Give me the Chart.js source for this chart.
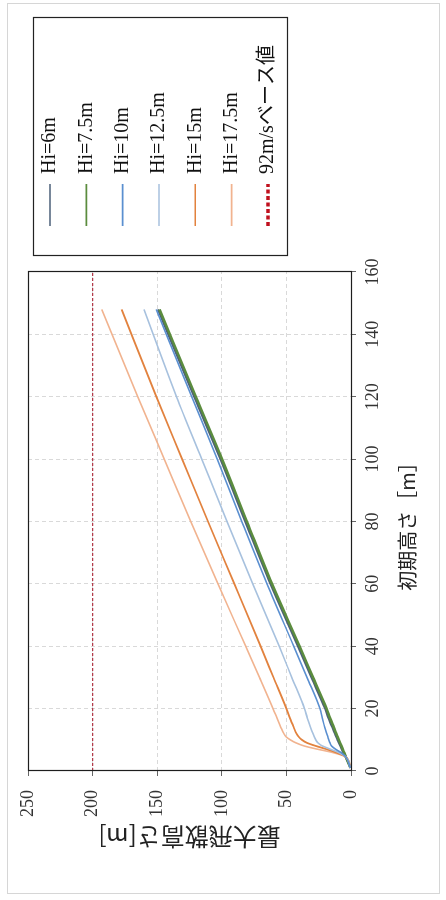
<!DOCTYPE html>
<html><head><meta charset="utf-8">
<script src="https://cdn.jsdelivr.net/npm/chart.js@4"></script>
<style>
html,body{margin:0;padding:0;background:#fff;overflow:hidden;width:446px;height:900px;}
#rot{position:absolute;left:0;top:0;width:900px;height:446px;transform-origin:0 0;transform:translate(0,900px) rotate(-90deg);}
canvas{display:block;}
</style></head><body>
<div id="rot"><canvas id="c" width="900" height="446"></canvas></div>
<script>
// Initial height [m] (x values)
const initialHeight = [1, 4.5, 6, 7, 8, 9, 10, 11, 12, 14, 17, 20, 30, 40, 60, 80, 100, 120, 148];
// Max scatter height [m] per series
const hi6    = [0.5, 4, 6.0, 7.1, 8.2, 9.3, 10.4, 11.4, 12.4, 14.4, 17.3, 20.0, 30.6, 41.0, 62.3, 81.8, 101.0, 121.3, 149.4];
const hi7_5  = [0.5, 4, 5.4, 6.4, 7.4, 8.4, 9.4, 10.4, 11.4, 13.3, 16.2, 18.9, 29.4, 39.8, 61.2, 80.6, 99.8, 120.1, 148.2];
const hi10   = [0.5, 4, 8, 12, 15, 16.3, 17.2, 18, 18.8, 20.3, 22.2, 24, 34, 44.3, 65, 84.5, 103.5, 123.3, 150.8];
const hi12_5 = [0.5, 4, 10, 16, 22, 25.5, 27.3, 28.5, 29.5, 31.3, 33.8, 36, 45.8, 55.6, 76, 96, 115.5, 135, 160.2];
const hi15   = [0.5, 4, 12, 19, 27, 34, 38, 40.5, 42.2, 44.3, 47.3, 50, 60, 70, 90.3, 110.7, 130.7, 150.7, 177.5];
const hi17_5 = [0.5, 4, 15, 26, 36, 42.5, 47, 50.3, 52, 54.3, 57.3, 60.3, 70.8, 81.5, 103, 124, 144.5, 165, 193];
// 92 m/s base value line
const baseX = [0, 160];
const baseY = [200, 200];

const seriesLabels = ['Hi=6m', 'Hi=7.5m', 'Hi=10m', 'Hi=12.5m', 'Hi=15m', 'Hi=17.5m', '92m/sベース値'];
const xTicks = [0, 20, 40, 60, 80, 100, 120, 140, 160];
const yTicks = [0, 50, 100, 150, 200, 250];

const pts = (xs, ys) => xs.map((x, i) => ({x: x, y: ys[i]}));

const serif = "'Liberation Serif', 'Noto Sans CJK JP', serif";
const cjk = "'Noto Sans CJK JP', sans-serif";

const styles = [
  {c: '#4b5f78', w: 2.2, order: 3},
  {c: '#5b8c3e', w: 2.6, order: 2},
  {c: '#5a8fd0', w: 1.6, order: 1},
  {c: '#a7c1de', w: 1.6, order: 1},
  {c: '#e2823e', w: 1.8, order: 1},
  {c: '#f1b38f', w: 1.6, order: 1}
];
const seriesData = [hi6, hi7_5, hi10, hi12_5, hi15, hi17_5];

const datasets = seriesData.map((ys, i) => ({
  label: seriesLabels[i],
  data: pts(initialHeight, ys),
  borderColor: styles[i].c,
  backgroundColor: styles[i].c,
  borderWidth: styles[i].w,
  pointRadius: 0,
  cubicInterpolationMode: 'monotone',
  order: styles[i].order,
  legendWidth: 1.6
}));
datasets.push({
  label: seriesLabels[6],
  data: pts(baseX, baseY),
  borderColor: '#b23a4a',
  backgroundColor: '#b23a4a',
  borderWidth: 1.2,
  borderDash: [3, 2],
  pointRadius: 0,
  order: 4,
  legendWidth: 3.5,
  legendDash: [4, 2.5],
  legendColor: '#c0101e'
});

const deco = {
  id: 'deco',
  beforeDraw(chart) {
    const ctx = chart.ctx;
    ctx.save();
    ctx.fillStyle = '#fff';
    ctx.fillRect(0, 0, chart.width, chart.height);
    ctx.strokeStyle = '#d6d6d6';
    ctx.lineWidth = 1;
    ctx.strokeRect(6.5, 7.5, 890, 432);
    ctx.restore();
  },
  afterLayout(chart) {
    const lg = chart.legend;
    if (!lg) return;
    const pad = lg.options.labels.padding;
    const h = lg.bottom - lg.top;
    lg.left = 674 - pad; lg.right = 895; lg.width = lg.right - lg.left;
    lg.top = 40 - pad; lg.bottom = lg.top + h;
  },
  afterDraw(chart) {
    const ctx = chart.ctx, a = chart.chartArea;
    ctx.save();
    ctx.strokeStyle = '#1e1e1e';
    ctx.lineWidth = 1.2;
    ctx.strokeRect(Math.round(a.left) + 0.5, Math.round(a.top) + 0.5, Math.round(a.right - a.left), Math.round(a.bottom - a.top));
    ctx.strokeStyle = '#222';
    ctx.lineWidth = 1.2;
    ctx.strokeRect(644.5, 33.5, 238, 254);
    ctx.restore();
  }
};

const zeroPad = s => { s.paddingLeft = 0; s.paddingRight = 0; s.paddingTop = 0; s.paddingBottom = 0; };

new Chart(document.getElementById('c'), {
  type: 'line',
  data: {datasets: datasets},
  plugins: [deco],
  options: {
    responsive: false,
    animation: false,
    devicePixelRatio: 1,
    layout: {padding: {left: 0, right: 122, top: 28, bottom: 0}},
    plugins: {
      tooltip: {enabled: false},
      legend: {
        display: true,
        position: 'right',
        align: 'start',
        maxWidth: 150,
        labels: {
          usePointStyle: true,
          pointStyle: 'line',
          pointStyleWidth: 42,
          padding: 16.33,
          color: '#111',
          font: {family: serif, size: 20},
          sort: (a, b) => a.datasetIndex - b.datasetIndex,
          generateLabels(chart) {
            const items = Chart.defaults.plugins.legend.labels.generateLabels(chart);
            items.forEach(it => {
              const ds = chart.data.datasets[it.datasetIndex];
              if (ds.legendWidth) it.lineWidth = ds.legendWidth;
              if (ds.legendDash) it.lineDash = ds.legendDash;
              if (ds.legendColor) it.strokeStyle = ds.legendColor;
            });
            return items;
          }
        }
      }
    },
    scales: {
      x: {
        type: 'linear',
        min: 0, max: 160,
        afterBuildTicks: s => { s.ticks = xTicks.map(v => ({value: v})); },
        afterFit: s => { s.height = 95; zeroPad(s); },
        ticks: {color: '#333', font: {family: serif, size: 18}, padding: 6, maxRotation: 0, autoSkip: false},
        grid: {color: '#d9d9d9', lineWidth: 1, tickLength: 5, tickColor: '#666', tickBorderDash: []},
        border: {display: false, dash: [4, 3]},
        title: {display: true, text: '初期高さ［m］', color: '#222', font: {family: cjk, size: 20}, padding: {top: 0, bottom: 27}}
      },
      y: {
        type: 'linear',
        min: 0, max: 250,
        afterBuildTicks: s => { s.ticks = yTicks.map(v => ({value: v})); },
        afterFit: s => { s.width = 129; zeroPad(s); },
        ticks: {color: '#333', font: {family: serif, size: 18}, padding: 14, autoSkip: false},
        grid: {color: '#d9d9d9', lineWidth: 1, tickLength: 5, tickColor: '#666', tickBorderDash: []},
        border: {display: false, dash: [4, 3]},
        title: {display: true, text: '最大飛散高さ[m]', color: '#222', font: {family: cjk, size: 24, weight: 'normal'}, padding: {top: 48, bottom: 0}}
      }
    }
  }
});
</script></body></html>
